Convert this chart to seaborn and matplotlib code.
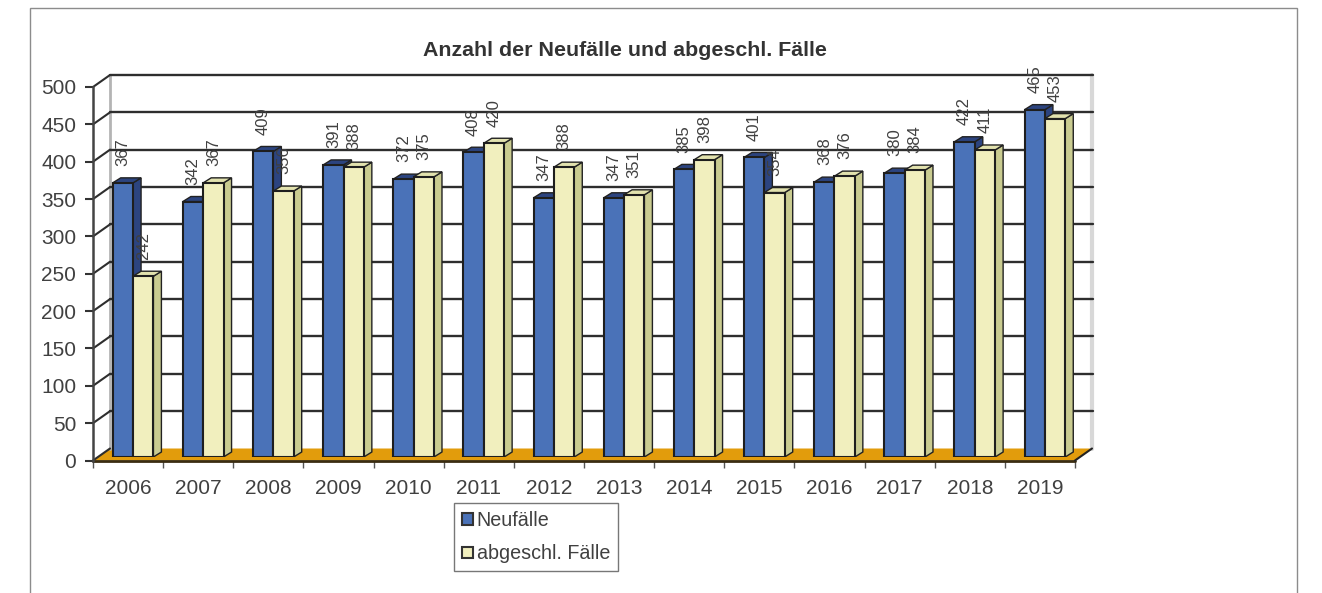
import pandas as pd
from matplotlib import pyplot as plt
from matplotlib.patches import Patch, Polygon, Rectangle
import seaborn as sns

years = ['2006', '2007', '2008', '2009', '2010', '2011', '2012', '2013', '2014', '2015', '2016', '2017', '2018', '2019']
neufaelle = [367, 342, 409, 391, 372, 408, 347, 347, 385, 401, 368, 380, 422, 465]
abgeschl = [242, 367, 356, 388, 375, 420, 388, 351, 398, 354, 376, 384, 411, 453]
series_names = ['Neufälle', 'abgeschl. Fälle']
y_ticks = [0, 50, 100, 150, 200, 250, 300, 350, 400, 450, 500]

W, H = 1322, 593
PX_X = 982 / 14  # pixels per category
PX_Y = 373.5 / 500  # pixels per value unit
TEXT = '#404040'
GRID = '#2e2e2e'
BLUE = ['#4a72b8', '#2c4480', '#2c4480']
YELLOW = ['#f1efbe', '#c9cb90', '#e2e2ae']


def axes_at(left, bottom_y, width, height):
    return fig.add_axes([left / W, 1 - bottom_y / H, width / W, height / H])


def draw_room(ax, dx, dy):
    # walls, floor and grid are drawn in the front axes, shifted back by the depth
    dx = dx / PX_X
    dy = dy / PX_Y
    left, right = -0.5, 13.5
    ax.add_patch(Polygon([(left, 0), (left + dx, dy), (right + dx, dy), (right, 0)],
                         facecolor='#e29c0c', edgecolor='none', clip_on=False, zorder=1))
    ax.plot([left + dx, left + dx], [dy, 500 + dy], color='#b4b4b4', lw=2, clip_on=False, zorder=1)
    ax.plot([right + dx, right + dx], [dy, 500 + dy], color='#d8d8d8', lw=3, clip_on=False, zorder=1)
    ax.plot([left, right], [0, 0], color='#3a2c10', lw=2, clip_on=False, zorder=2)
    ax.plot([right, right + dx], [0, dy], color='#222222', lw=1.5, clip_on=False, zorder=2)
    for v in y_ticks[1:]:
        ax.plot([left + dx, right + dx + 0.02], [v + dy, v + dy], color=GRID, lw=1.7, clip_on=False, zorder=2)
    for v in y_ticks:
        ax.plot([left, left + dx], [v, v + dy], color=GRID, lw=1.5, clip_on=False, zorder=2)


def add_depth(ax, container, colors, dx, dy):
    dx = dx / PX_X
    dy = dy / PX_Y
    for bar in container:
        x0, x1 = bar.get_x(), bar.get_x() + bar.get_width()
        top = bar.get_height()
        ax.add_patch(Polygon([(x1, 0), (x1 + dx, dy), (x1 + dx, top + dy), (x1, top)],
                             facecolor=colors[1], edgecolor='#222222', lw=1, zorder=1.5))
        ax.add_patch(Polygon([(x0, top), (x0 + dx, top + dy), (x1 + dx, top + dy), (x1, top)],
                             facecolor=colors[2], edgecolor='#222222', lw=1, zorder=1.5))


sns.set_theme(style='white')
plt.rcParams['font.family'] = ['Liberation Sans', 'DejaVu Sans']

table = pd.DataFrame({
    'Jahr': years * 2,
    'Fälle': neufaelle + abgeschl,
    'Reihe': [series_names[0]] * len(years) + [series_names[1]] * len(years),
})

fig = plt.figure(figsize=(W / 100, H / 100), dpi=100, facecolor='white')

# page frame around the chart, open at the bottom
fig.add_artist(Rectangle((30 / W, -0.1), 1267 / W, 1.1 - 8 / H, transform=fig.transFigure,
                         facecolor='none', edgecolor='#8c8c8c', lw=1))

ax = axes_at(93, 460.5, 982, 373.5)
ax.set_xlim(-0.5, 13.5)
ax.set_ylim(0, 500)
ax.patch.set_alpha(0)
sns.despine(ax=ax, right=True, top=True)
ax.spines['left'].set_color('#444444')
ax.spines['left'].set_linewidth(1.8)
ax.spines['bottom'].set_visible(False)
ax.set_yticks(y_ticks)
ax.set_xticks([i - 0.5 for i in range(len(years) + 1)])
ax.set_xticklabels([])
ax.set_xticks(range(len(years)), labels=years, minor=True)
ax.tick_params(axis='y', left=True, length=6, width=1.5, color='#333333', labelsize=15, labelcolor=TEXT, pad=6)
ax.tick_params(axis='x', which='major', bottom=True, length=5, width=1, color='#555555')
ax.tick_params(axis='x', which='minor', bottom=False, length=0, labelsize=15, labelcolor=TEXT, pad=13)
draw_room(ax, 17, 12)

# bars stand halfway into the floor
bar_ax = axes_at(98, 457, 982, 373.5)
sns.barplot(data=table, x='Jahr', y='Fälle', hue='Reihe', palette=[BLUE[0], YELLOW[0]], width=0.58,
            saturation=1, edgecolor='#1e1e1e', linewidth=1.5, legend=False, ax=bar_ax, zorder=2)
bar_ax.set_xlim(-0.5, 13.5)
bar_ax.set_ylim(0, 500)
bar_ax.set_axis_off()
for container, colors in zip(bar_ax.containers, [BLUE, YELLOW]):
    add_depth(bar_ax, container, colors, 8, 5)
    bar_ax.bar_label(container, rotation=90, padding=12, fontsize=12, color=TEXT)

fig.text(625 / W, 1 - 50 / H, 'Anzahl der Neufälle und abgeschl. Fälle', ha='center', va='center',
         fontsize=15.4, fontweight='bold', color='#333333')

handles = [Patch(facecolor=BLUE[0], edgecolor='#333333', lw=1.5, label=series_names[0]),
           Patch(facecolor=YELLOW[0], edgecolor='#333333', lw=1.5, label=series_names[1])]
fig.legend(handles=handles, loc='upper left', bbox_to_anchor=(454 / W, 1 - 503 / H), fontsize=14.2,
           labelcolor=TEXT, fancybox=False, framealpha=1, edgecolor='#777777', handlelength=0.55,
           handleheight=0.55, handletextpad=0.2, labelspacing=0.74, borderpad=0.4, borderaxespad=0)

fig.savefig('out.png', dpi=100)
